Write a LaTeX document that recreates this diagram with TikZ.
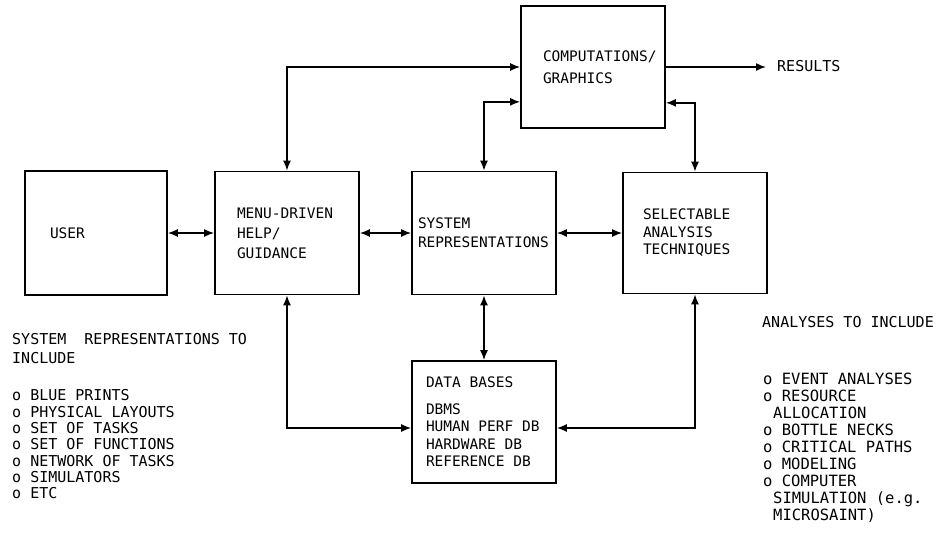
\documentclass[tikz,border=0pt]{standalone}
\usepackage{fontspec}
\newfontfamily\rptfont[WordSpace={1,0,0}]{DejaVu Sans Mono}
\usetikzlibrary{positioning,arrows.meta}

\begin{document}
\begin{tikzpicture}[x=1pt,y=-1pt,on grid,
        >={Latex[length=10pt,width=8pt]},
        block/.style={draw,line width=1.7pt,minimum width=144pt,minimum height=123pt,
            align=flush left,inner xsep=0pt,font=\rptfont\fontsize{14.5}{17.5}\selectfont},
        link/.style={line width=1.5pt},
        note/.style={align=left,inner sep=0pt,font=\rptfont\fontsize{15}{16.3}\selectfont}]
    \useasboundingbox (0,0) rectangle (942,544);
        \node[block, minimum width=142pt, minimum height=124pt, text width=92pt] (user) at (96,233) {USER};
        \node[block, text width=100pt] (menu) [right=191pt of user] {MENU-DRIVEN\\[2.5pt]HELP/\\[2.5pt]GUIDANCE};
        \node[block, text width=132pt] (sys) [right=197pt of menu] {SYSTEM\\[1.5pt]REPRESENTATIONS};
        \node[block, minimum height=121pt, text width=104pt] (sel) [right=211pt of sys] {SELECTABLE\\ANALYSIS\\TECHNIQUES};
        \node[block, minimum height=122pt, text width=100pt] (comp) [above right=166pt and 109pt of sys] {\rlap{COMPUTATIONS/}\\[4.5pt]GRAPHICS};
        \node[block, minimum height=122pt, text width=116pt] (db) [below=189pt of sys]
            {DATA BASES\\[9pt]DBMS\\HUMAN PERF DB\\HARDWARE DB\\REFERENCE DB};
        \node[note, anchor=west] (results) at (777,66) {RESULTS};

        % notes under the blocks
        \node[note, anchor=north west] (sysrep) at (12,333.5) {SYSTEM\ \ REPRESENTATIONS TO\\[2.7pt]INCLUDE};
        \node[note, anchor=north west] (sysrep-list) at (12,389.5)
            {o BLUE PRINTS\\o PHYSICAL LAYOUTS\\o SET OF TASKS\\o SET OF FUNCTIONS\\o NETWORK OF TASKS\\o SIMULATORS\\o ETC};
        \node[note, anchor=north west] (analyses) at (762,316.5) {ANALYSES TO INCLUDE};
        \node[note, anchor=north west, font=\rptfont\fontsize{15.5}{17}\selectfont] (analyses-list) at (763,372.5)
            {o EVENT ANALYSES\\o RESOURCE\\\hspace*{10pt}ALLOCATION\\o BOTTLE NECKS\\o CRITICAL PATHS\\o MODELING\\o COMPUTER\\\hspace*{10pt}SIMULATION (e.g.\\\hspace*{10pt}MICROSAINT)};

        \path[<->, link]
            (user) edge (menu)
            (menu) edge (sys)
            (sys) edge (sel)
            (sys) edge (db);
        \draw[<->, link] (menu.north) |- (comp.west);
        \draw[<->, link] (sys.north) |- ([yshift=27pt]comp.south west);
        \draw[<->, link] (sel.north) |- ([yshift=26pt]comp.south east);
        \draw[->, link, shorten >=11pt] (comp.east) -- (comp.east -| results.west);
        \draw[<->, link] (menu.south) |- ([yshift=-6pt]db.west);
        \draw[<->, link] (sel.south) |- ([yshift=-6pt]db.east);
\end{tikzpicture}
\end{document}
